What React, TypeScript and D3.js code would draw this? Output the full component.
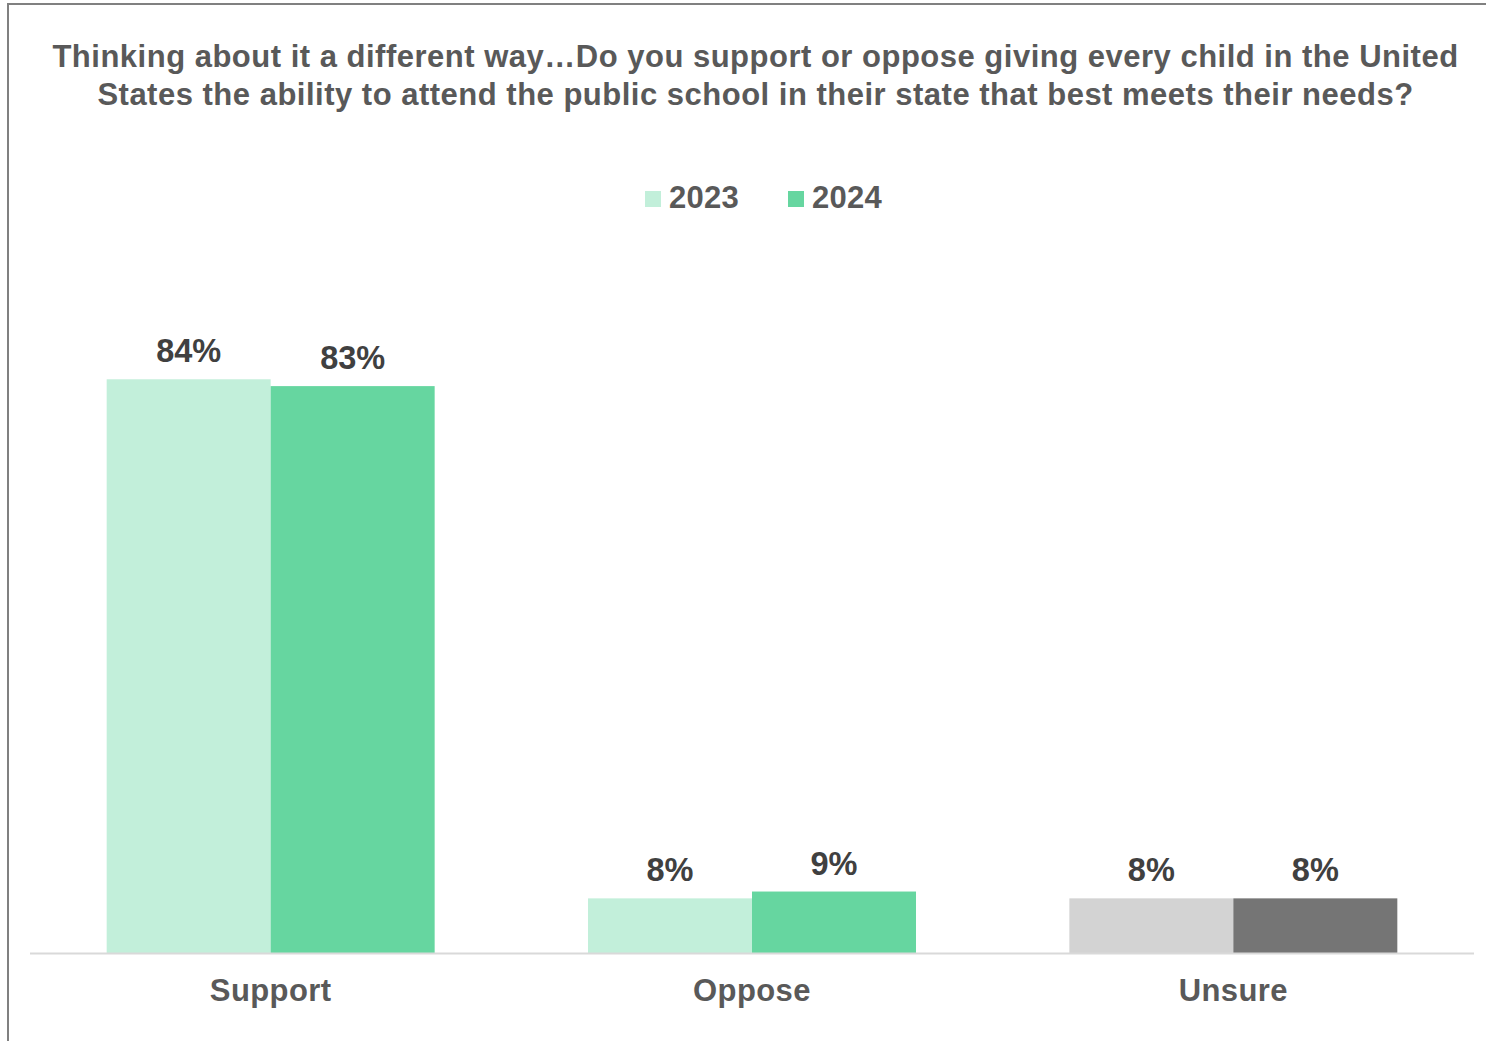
import React from "react";
import * as d3 from "d3";

const categories = ["Support", "Oppose", "Unsure"];
const seriesNames = ["2023", "2024"];
const values2023 = [84, 8, 8];
const values2024 = [83, 9, 8];
const labels2023 = ["84%", "8%", "8%"];
const labels2024 = ["83%", "9%", "8%"];
const titleLines = [
  "Thinking about it a different way…Do you support or oppose giving every child in the United",
  "States the ability to attend the public school in their state that best meets their needs?",
];

const W = 1486;
const H = 1041;
const FONT = "'Liberation Sans', Arial, Helvetica, sans-serif";

const colors2023 = ["#c2efda", "#c2efda", "#d3d3d3"];
const colors2024 = ["#66d6a0", "#66d6a0", "#757575"];
const legendColors = ["#c2efda", "#66d6a0"];

export default function App() {
  const x0 = d3.scaleBand<string>().domain(categories).range([30, 1474]).paddingInner(0.3186).paddingOuter(0.1593);
  const x1 = d3.scaleBand<string>().domain(seriesNames).range([0, x0.bandwidth()]);
  const y = d3.scaleLinear().domain([0, 100]).range([953, 270]);

  const series = [
    { name: "2023", values: values2023, labels: labels2023, colors: colors2023 },
    { name: "2024", values: values2024, labels: labels2024, colors: colors2024 },
  ];

  const legendX = [645, 788];

  return (
    <svg width={W} height={H} style={{ position: "absolute", left: 0, top: 0, background: "#fff" }} fontFamily={FONT}>
      <rect x={0} y={0} width={W} height={H} fill="#fff" />
      <path d={`M8,${H} V4 H${W}`} fill="none" stroke="#808080" strokeWidth={2} />
      {titleLines.map((t, i) => (
        <text key={i} x={755.5} y={67 + i * 38} textAnchor="middle" fontSize={31} letterSpacing={0.5} fontWeight="bold" fill="#595959">
          {t}
        </text>
      ))}
      {seriesNames.map((s, i) => (
        <g key={s}>
          <rect x={legendX[i]} y={191} width={16} height={16} fill={legendColors[i]} />
          <text x={legendX[i] + 24} y={208} fontSize={31} letterSpacing={0.3} fontWeight="bold" fill="#595959">
            {s}
          </text>
        </g>
      ))}
      {series.map((s) =>
        categories.map((c, ci) => {
          const bx = (x0(c) as number) + (x1(s.name) as number);
          const bw = x1.bandwidth();
          const top = y(s.values[ci]);
          return (
            <g key={s.name + c}>
              <rect x={bx} y={top} width={bw} height={y(0) - top} fill={s.colors[ci]} />
              <text x={bx + bw / 2} y={top - 17} textAnchor="middle" fontSize={32.5} fontWeight="bold" fill="#404040">
                {s.labels[ci]}
              </text>
            </g>
          );
        })
      )}
      <line x1={30} x2={1474} y1={953.5} y2={953.5} stroke="#d9d9d9" strokeWidth={2} />
      {categories.map((c) => (
        <text key={c} x={(x0(c) as number) + x0.bandwidth() / 2} y={1001} textAnchor="middle" fontSize={31} letterSpacing={0.4} fontWeight="bold" fill="#595959">
          {c}
        </text>
      ))}
    </svg>
  );
}
